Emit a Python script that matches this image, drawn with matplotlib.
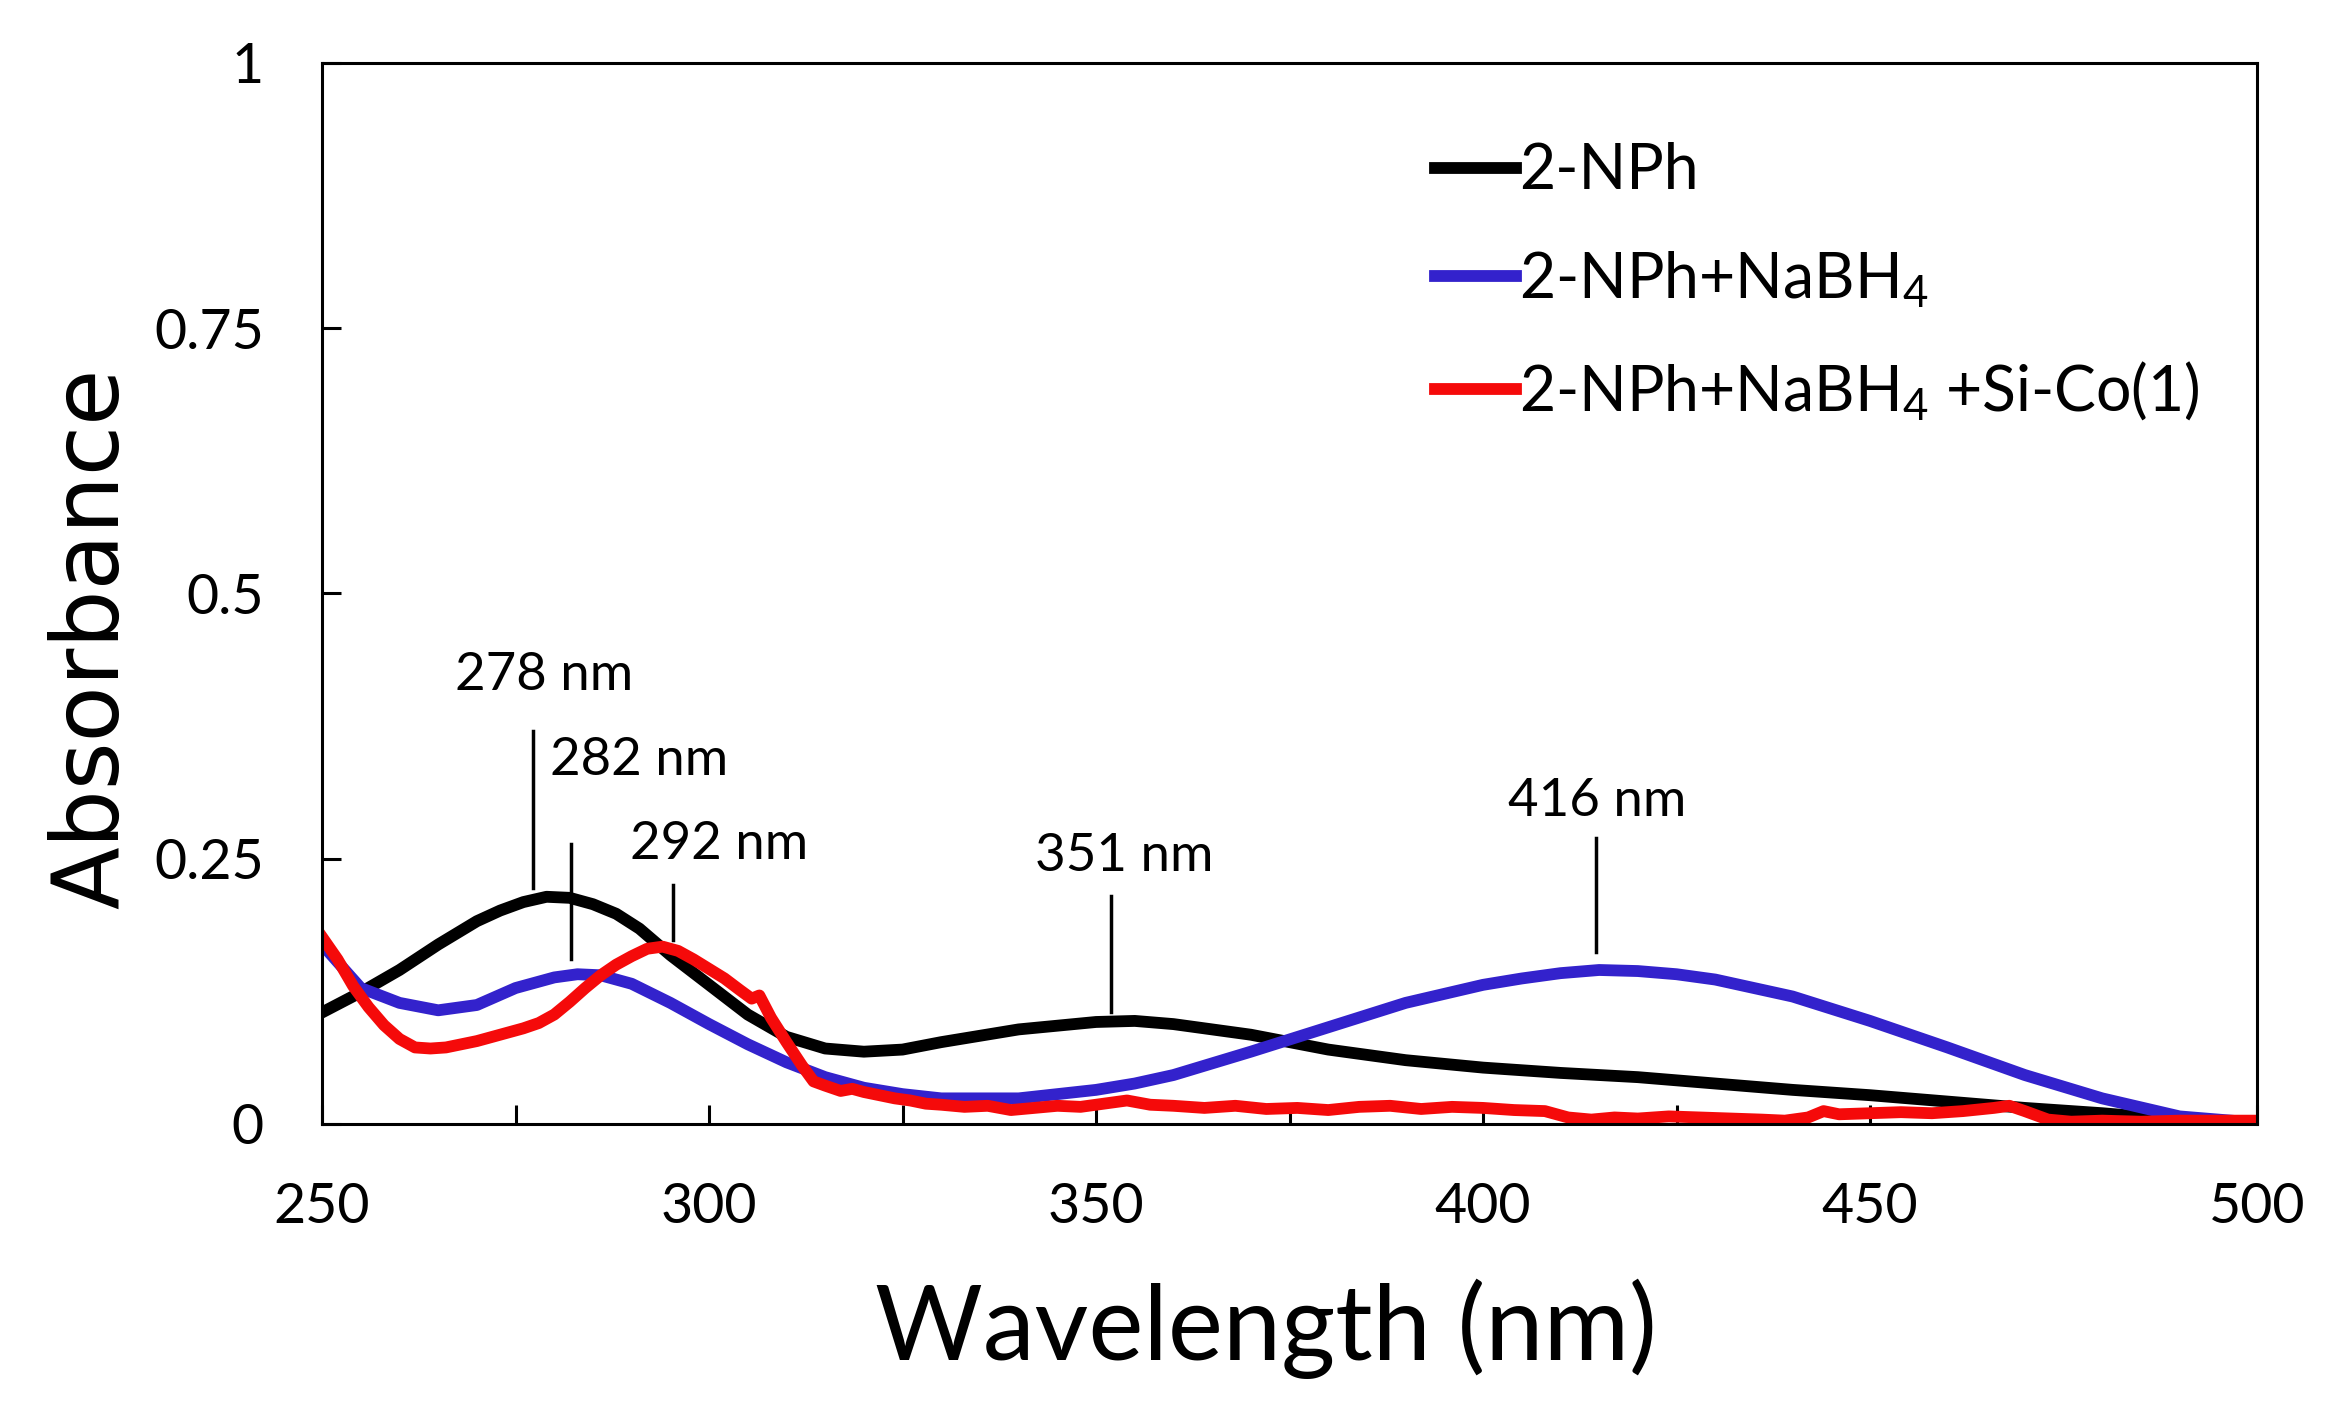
import matplotlib.pyplot as plt
from matplotlib.ticker import MultipleLocator

plt.rcParams['font.family'] = ['Lato', 'DejaVu Sans']
plt.rcParams['mathtext.fontset'] = 'custom'
plt.rcParams['mathtext.rm'] = 'Lato'
plt.rcParams['mathtext.default'] = 'regular'

# 2-NPh
wl_np = [250, 255, 260, 265, 270, 273, 276, 279, 282, 285, 288, 291, 295, 300, 305, 310,
         315, 320, 325, 330, 340, 350, 355, 360, 370, 380, 390, 400, 410, 420, 430, 440,
         450, 460, 470, 480, 490, 500]
abs_np = [0.105, 0.124, 0.145, 0.169, 0.191, 0.201, 0.209, 0.214, 0.213, 0.207, 0.198,
          0.184, 0.159, 0.131, 0.103, 0.082, 0.071, 0.068, 0.070, 0.077, 0.089, 0.096,
          0.097, 0.094, 0.084, 0.070, 0.060, 0.053, 0.048, 0.044, 0.038, 0.032, 0.027,
          0.021, 0.015, 0.010, 0.004, 0.001]

# 2-NPh + NaBH4
wl_nb = [250, 255, 260, 265, 270, 275, 280, 283, 286, 290, 295, 300, 305, 310, 315, 320,
         325, 330, 340, 350, 355, 360, 370, 380, 390, 400, 405, 410, 415, 420, 425, 430,
         440, 450, 460, 470, 480, 490, 500]
abs_nb = [0.169, 0.128, 0.114, 0.107, 0.112, 0.128, 0.138, 0.141, 0.140, 0.132, 0.114,
          0.094, 0.075, 0.058, 0.044, 0.034, 0.028, 0.024, 0.024, 0.032, 0.038, 0.046,
          0.068, 0.091, 0.114, 0.131, 0.137, 0.142, 0.145, 0.144, 0.141, 0.136, 0.120,
          0.097, 0.072, 0.046, 0.024, 0.007, 0.001]

# 2-NPh + NaBH4 + Si-Co(1)
wl_co = [250, 252, 254, 256, 258, 260, 262, 264, 266, 268, 270, 272, 274, 276, 278,
         280, 282, 284, 286, 288, 290, 292, 294, 296, 298, 300, 302, 304, 305.5, 306.5,
         308, 310, 312, 313.5, 315, 317, 318.5, 320, 322, 324, 326, 328, 330, 333, 336,
         339, 342, 345, 348, 351, 354, 357, 360, 364, 368, 372, 376, 380, 384, 388, 392,
         396, 400, 404, 408, 411, 414, 417, 420, 424, 428, 432, 436, 439, 442, 444, 446,
         450, 454, 458, 462, 466, 468, 470, 473, 476, 480, 485, 490, 495, 500]
abs_co = [0.176, 0.155, 0.130, 0.110, 0.093, 0.080, 0.072, 0.071, 0.072, 0.075, 0.078,
          0.082, 0.086, 0.090, 0.095, 0.103, 0.115, 0.128, 0.140, 0.150, 0.158, 0.165,
          0.167, 0.163, 0.155, 0.146, 0.137, 0.126, 0.118, 0.121, 0.100, 0.077, 0.055,
          0.040, 0.036, 0.031, 0.033, 0.030, 0.027, 0.024, 0.022, 0.019, 0.018, 0.016,
          0.017, 0.013, 0.015, 0.017, 0.016, 0.019, 0.022, 0.018, 0.017, 0.015, 0.017,
          0.014, 0.015, 0.013, 0.016, 0.017, 0.014, 0.016, 0.015, 0.013, 0.012, 0.006,
          0.004, 0.006, 0.005, 0.007, 0.006, 0.005, 0.004, 0.003, 0.006, 0.012, 0.009,
          0.010, 0.011, 0.010, 0.012, 0.015, 0.017, 0.012, 0.004, 0.002, 0.003, 0.002,
          0.003, 0.003, 0.003]

# peak labels: text, text x, text y, line x, line bottom, line top
peak_txt = ['278 nm', '282 nm', '292 nm', '351 nm', '416 nm']
peak_tx = [278.7, 291.0, 301.3, 353.7, 414.8]
peak_ty = [0.423, 0.342, 0.263, 0.252, 0.304]
peak_lx = [277.3, 282.1, 295.4, 351.9, 414.6]
peak_y0 = [0.222, 0.155, 0.173, 0.105, 0.162]
peak_y1 = [0.370, 0.264, 0.225, 0.215, 0.269]

yticks = [0, 0.25, 0.5, 0.75, 1]
ytick_labels = ['0', '0.25', '0.5', '0.75', '1']
xticks = [250, 300, 350, 400, 450, 500]

fig = plt.figure(figsize=(23.34, 14.28), dpi=100)
ax = fig.add_axes([0.138, 0.213, 0.829, 0.743])

ax.plot(wl_np, abs_np, color='black', lw=8.5, label='2-NPh')
ax.plot(wl_nb, abs_nb, color='#3322CC', lw=8.5, label='2-NPh+NaBH$_4$')
ax.plot(wl_co, abs_co, color='#F50A0A', lw=8.5, label='2-NPh+NaBH$_4$ +Si-Co(1)')

for t, tx, ty, lx, y0, y1 in zip(peak_txt, peak_tx, peak_ty, peak_lx, peak_y0, peak_y1):
    ax.text(tx, ty, t, ha='center', va='center', fontsize=38)
    ax.plot([lx, lx], [y0, y1], color='black', lw=2.5)

ax.set_xlim(250, 500)
ax.set_ylim(0, 1)
ax.set_xticks(xticks)
ax.xaxis.set_minor_locator(MultipleLocator(25))
ax.set_yticks(yticks)
ax.set_yticklabels(ytick_labels)
ax.tick_params(axis='both', which='both', direction='in', length=14, width=2.2,
               labelsize=40, pad=42)
for s in ax.spines.values():
    s.set_linewidth(2.2)

ax.set_xlabel('Wavelength (nm)', fontsize=75)
ax.xaxis.set_label_coords(0.488, -0.193)
ax.xaxis.label.set_va('center')
ax.set_ylabel('Absorbance', fontsize=66, family='DejaVu Sans')
ax.yaxis.set_label_coords(-0.119, 0.458)
ax.yaxis.label.set_va('center')

ax.legend(loc='upper left', bbox_to_anchor=(0.575, 0.925), frameon=False, fontsize=45,
          handlelength=1.3, handletextpad=0.05, labelspacing=0.78, borderpad=0,
          borderaxespad=0)

fig.savefig('out.png', dpi=100)
